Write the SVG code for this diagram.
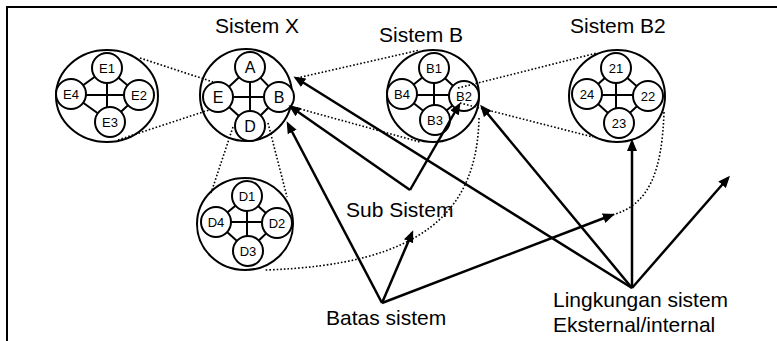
<svg xmlns="http://www.w3.org/2000/svg" width="777" height="341" viewBox="0 0 777 341">
  <style>
    text { font-family: "Liberation Sans", Arial, sans-serif; fill: #000; }
    .title { font-size: 21px; }
    .lbl { font-size: 13px; text-anchor: middle; }
    .lbl-x { font-size: 16px; text-anchor: middle; }
    .outer { fill: none; stroke: #000; stroke-width: 2; }
    .inner { fill: #fff; stroke: #000; stroke-width: 2; }
    .link { stroke: #000; stroke-width: 2; fill: none; }
    .arrow { stroke: #000; stroke-width: 2.5; fill: none; marker-end: url(#ah); }
    .dot { stroke: #000; stroke-width: 1.6; stroke-dasharray: 1.6 2; fill: none; }
    .frame { stroke: #000; stroke-width: 2; fill: none; }
  </style>
  <defs>
    <marker id="ah" markerWidth="12" markerHeight="10" refX="9" refY="5" orient="auto" markerUnits="userSpaceOnUse">
      <path d="M0,0 L12,5 L0,10 z" fill="#000"/>
    </marker>
  </defs>

  <rect width="777" height="341" fill="#fff"/>
  <!-- frame: top and left edges only -->
  <path class="frame" d="M7,341 V7 H777"/>

  <!-- dotted expansion lines and boundaries -->
  <g id="connectors">
    <line class="dot" x1="140" y1="58" x2="213" y2="82"/>
    <line class="dot" x1="118" y1="140" x2="212" y2="109"/>
    <line class="dot" x1="233" y1="127" x2="211" y2="193"/>
    <line class="dot" x1="268" y1="123" x2="287" y2="197"/>
    <line class="dot" x1="297" y1="78" x2="420" y2="50"/>
    <line class="dot" x1="293" y1="107" x2="420" y2="142"/>
    <path class="dot" d="M479,118 C477,210 425,265 265,270"/>
    <path class="dot" d="M664,112 C662,170 650,205 612,215"/>
  </g>

  <!-- cluster E -->
  <g id="sistem-e">
    <ellipse class="outer" cx="107" cy="96" rx="51" ry="46"/>
    <path class="link" d="M107,68 L71,94 L110,122 L139,95 Z M107,68 V122 M71,95 H139"/>
    <circle class="inner" cx="107" cy="68" r="15"/>
    <circle class="inner" cx="139" cy="95" r="15"/>
    <circle class="inner" cx="110" cy="122" r="15"/>
    <circle class="inner" cx="71" cy="94" r="15"/>
    <text class="lbl" x="107" y="72.5">E1</text>
    <text class="lbl" x="139" y="99.5">E2</text>
    <text class="lbl" x="110" y="126.5">E3</text>
    <text class="lbl" x="71" y="98.5">E4</text>
  </g>

  <!-- cluster X -->
  <g id="sistem-x">
    <text class="title" x="215" y="33">Sistem  X</text>
    <circle class="outer" cx="246" cy="95" r="46"/>
    <path class="link" d="M250,67 L218,97 L250,126 L279,97 Z M250,67 V126 M218,97 H279"/>
    <circle class="inner" cx="250" cy="67" r="15"/>
    <circle class="inner" cx="279" cy="97" r="15"/>
    <circle class="inner" cx="250" cy="126" r="15"/>
    <circle class="inner" cx="218" cy="97" r="15"/>
    <text class="lbl-x" x="250" y="72.5">A</text>
    <text class="lbl-x" x="279" y="102.5">B</text>
    <text class="lbl-x" x="250" y="131.5">D</text>
    <text class="lbl-x" x="218" y="102.5">E</text>
  </g>

  <!-- cluster B -->
  <g id="sistem-b">
    <text class="title" x="379" y="42">Sistem B</text>
    <circle class="outer" cx="433" cy="96" r="46"/>
    <path class="link" d="M434,68 L402,94 L435,120 L464,96 Z M434,68 V120 M402,95 H464"/>
    <circle class="inner" cx="434" cy="68" r="15"/>
    <circle class="inner" cx="464" cy="96" r="15"/>
    <circle class="inner" cx="435" cy="120" r="15"/>
    <circle class="inner" cx="402" cy="94" r="15"/>
    <text class="lbl" x="434" y="72.5">B1</text>
    <text class="lbl" x="464" y="100.5">B2</text>
    <text class="lbl" x="435" y="124.5">B3</text>
    <text class="lbl" x="402" y="98.5">B4</text>
  </g>

  <!-- cluster B2 -->
  <g id="sistem-b2">
    <text class="title" x="570" y="33">Sistem  B2</text>
    <ellipse class="outer" cx="617" cy="96" rx="48" ry="46"/>
    <path class="link" d="M616,68 L587,94 L619,123 L648,96 Z M616,68 V123 M587,95 H648"/>
    <circle class="inner" cx="616" cy="68" r="15"/>
    <circle class="inner" cx="648" cy="96" r="15"/>
    <circle class="inner" cx="619" cy="123" r="15"/>
    <circle class="inner" cx="587" cy="94" r="15"/>
    <text class="lbl" x="616" y="72.5">21</text>
    <text class="lbl" x="648" y="100.5">22</text>
    <text class="lbl" x="619" y="127.5">23</text>
    <text class="lbl" x="587" y="98.5">24</text>
  </g>

  <!-- cluster D -->
  <g id="sistem-d">
    <ellipse class="outer" cx="245" cy="224" rx="48" ry="46"/>
    <path class="link" d="M247,196 L216,222 L248,251 L277,223 Z M247,196 V251 M216,222 H277"/>
    <circle class="inner" cx="247" cy="196" r="15"/>
    <circle class="inner" cx="277" cy="223" r="15"/>
    <circle class="inner" cx="248" cy="251" r="15"/>
    <circle class="inner" cx="216" cy="222" r="15"/>
    <text class="lbl" x="247" y="200.5">D1</text>
    <text class="lbl" x="277" y="227.5">D2</text>
    <text class="lbl" x="248" y="255.5">D3</text>
    <text class="lbl" x="216" y="226.5">D4</text>
  </g>

  <!-- expansion of B2, drawn over its circle -->
  <g id="connectors-b2">
    <line class="dot" x1="458" y1="88" x2="597" y2="53"/>
    <line class="dot" x1="460" y1="103" x2="593" y2="137"/>
  </g>

  <!-- pointer arrows -->
  <g id="arrows">
    <line class="arrow" x1="382" y1="303" x2="288" y2="124"/>
    <line class="arrow" x1="382" y1="303" x2="412" y2="233"/>
    <line class="arrow" x1="382" y1="303" x2="612" y2="215"/>
    <line class="arrow" x1="410" y1="190" x2="459" y2="105"/>
    <line class="arrow" x1="410" y1="190" x2="291" y2="107"/>
    <line class="arrow" x1="632" y1="288" x2="632" y2="142"/>
    <line class="arrow" x1="632" y1="288" x2="728" y2="178"/>
    <line class="arrow" x1="632" y1="288" x2="482" y2="107"/>
    <line class="arrow" x1="632" y1="288" x2="296" y2="78"/>
  </g>

  <!-- captions -->
  <g id="label-sub">
    <text class="title" x="346" y="217">Sub Sistem</text>
  </g>
  <g id="label-batas">
    <text class="title" x="326" y="325">Batas sistem</text>
  </g>
  <g id="label-lingkungan">
    <text class="title" x="553" y="307">Lingkungan sistem</text>
    <text class="title" x="553" y="332">Eksternal/internal</text>
  </g>
</svg>
